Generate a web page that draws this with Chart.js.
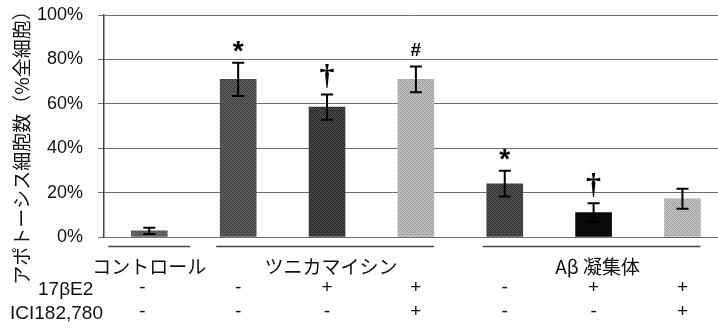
<!DOCTYPE html>
<html>
<head>
<meta charset="utf-8">
<script src="https://cdn.jsdelivr.net/npm/chart.js@4/dist/chart.umd.min.js"></script>
<style>
  html, body { margin: 0; padding: 0; background: #fff; overflow: hidden; }
  #wrap { width: 718px; height: 329px; position: relative; }
</style>
</head>
<body>
<div id="wrap"><canvas id="c" width="718" height="329"></canvas></div>
<script>
// Apoptotic cells as a percentage of all cells, per treatment
const treatments = ['コントロール', 'ツニカマイシン', 'ツニカマイシン', 'ツニカマイシン', 'Aβ 凝集体', 'Aβ 凝集体', 'Aβ 凝集体'];
const apoptosisPct = [2.8, 71, 58.5, 71, 24, 11, 17.2];
const errorPct = [1.4, 7.5, 5.7, 5.8, 5.8, 4.2, 4.5];
const significance = ['', '*', '†', '#', '*', '†', ''];
const e2Row = ['-', '-', '+', '+', '-', '+', '+'];
const iciRow = ['-', '-', '-', '+', '-', '-', '+'];
const groups = [
  { label: 'コントロール', from: 0, to: 0 },
  { label: 'ツニカマイシン', from: 1, to: 3 },
  { label: 'Aβ 凝集体', from: 4, to: 6 }
];
const rowTitles = ['17βE2', 'ICI182,780'];
const yTicks = [0, 20, 40, 60, 80, 100];
const barColors = ['#5e5e5e', '#505050', '#3a3a3a', '#b2b2b2', '#434343', '#0a0a0a', '#b4b4b4'];

const LATIN = '"Liberation Sans", Arial, sans-serif';
const CJK = '"Noto Sans CJK JP", "Liberation Sans", sans-serif';

// Printed halftone look: a small dithered tile around each base grey
function halftone(hex) {
  const base = parseInt(hex.slice(1, 3), 16);
  if (base < 20) return hex;
  const tile = document.createElement('canvas');
  tile.width = 4; tile.height = 4;
  const t = tile.getContext('2d');
  const offs = [[-22, 14, -8, 20], [12, -16, 22, -10], [-6, 20, -20, 10], [18, -12, 8, -18]];
  for (let r = 0; r < 4; r++) {
    for (let c = 0; c < 4; c++) {
      const g = Math.max(0, Math.min(255, base + offs[r][c]));
      t.fillStyle = `rgb(${g},${g},${g})`;
      t.fillRect(c, r, 1, 1);
    }
  }
  return t.createPattern(tile, 'repeat');
}

// Error bars, significance marks, group rules and the treatment table under the axis
const annotations = {
  id: 'annotations',
  afterDatasetsDraw(chart) {
    const ctx = chart.ctx;
    const xs = chart.scales.x, ys = chart.scales.y;
    ctx.save();
    ctx.strokeStyle = '#000';
    ctx.lineWidth = 2;
    apoptosisPct.forEach((v, i) => {
      const x = xs.getPixelForValue(i);
      const yt = ys.getPixelForValue(v + errorPct[i]);
      const yb = ys.getPixelForValue(Math.max(0, v - errorPct[i]));
      ctx.beginPath();
      ctx.moveTo(x, yt); ctx.lineTo(x, yb);
      ctx.moveTo(x - 6, yt); ctx.lineTo(x + 6, yt);
      ctx.moveTo(x - 6, yb); ctx.lineTo(x + 6, yb);
      ctx.stroke();
      const mark = significance[i];
      if (mark) {
        ctx.fillStyle = '#000';
        ctx.textAlign = 'center';
        ctx.textBaseline = 'alphabetic';
        if (mark === '†') ctx.font = 'bold 30px "Liberation Serif", serif';
        else if (mark === '#') ctx.font = 'bold 19px ' + LATIN;
        else ctx.font = 'bold 28px ' + LATIN;
        const m = ctx.measureText(mark);
        const gap = mark === '†' ? 6 : 11;
        ctx.fillText(mark, x, yt - gap - m.actualBoundingBoxDescent);
      }
    });
    ctx.restore();
  },
  afterDraw(chart) {
    const ctx = chart.ctx;
    const xs = chart.scales.x;
    ctx.save();
    // group rules just below the zero line
    ctx.strokeStyle = '#444';
    ctx.lineWidth = 1.5;
    groups.forEach(g => {
      const single = g.from === g.to;
      const x0 = xs.getPixelForValue(g.from) - (single ? 41 : 22);
      const x1 = xs.getPixelForValue(g.to) + (single ? 41 : 18);
      ctx.beginPath();
      ctx.moveTo(x0, 246.5); ctx.lineTo(x1, 246.5);
      ctx.stroke();
      ctx.fillStyle = '#111';
      ctx.font = '19px ' + CJK;
      ctx.textAlign = 'center';
      ctx.textBaseline = 'middle';
      const mid = (g.from + g.to) / 2;
      ctx.fillText(g.label, xs.getPixelForValue(mid) + (single ? 0 : 4), 267);
    });
    // treatment table rows
    ctx.font = '19px ' + LATIN;
    ctx.textBaseline = 'middle';
    ctx.textAlign = 'left';
    ctx.fillText(rowTitles[0], 38, 290);
    ctx.fillText(rowTitles[1], 10, 314);
    ctx.textAlign = 'center';
    [e2Row, iciRow].forEach((row, r) => {
      row.forEach((s, i) => {
        const x = xs.getPixelForValue(i) - (i === 0 ? 7 : 0);
        ctx.fillText(s, x, (r === 0 ? 288 : 312));
      });
    });
    // vertical axis title
    ctx.translate(22, 143);
    ctx.rotate(-Math.PI / 2);
    ctx.font = '19px ' + CJK;
    ctx.textAlign = 'center';
    ctx.textBaseline = 'middle';
    ctx.fillText('アポトーシス細胞数（%全細胞）', 0, 0);
    ctx.restore();
  }
};

new Chart(document.getElementById('c'), {
  type: 'bar',
  data: {
    datasets: [{
      label: treatments[0],
      data: apoptosisPct.map((v, i) => ({ x: i, y: v })),
      backgroundColor: barColors.map(halftone),
      borderWidth: 0,
      barThickness: 36
    }]
  },
  options: {
    responsive: false,
    animation: false,
    events: [],
    layout: { padding: { left: 0, right: 0, top: 15, bottom: 92 } },
    plugins: { legend: { display: false }, tooltip: { enabled: false } },
    scales: {
      x: {
        type: 'linear',
        display: false,
        offset: false,
        grid: { offset: false },
        min: -0.51,
        max: 6.40
      },
      y: {
        min: 0,
        max: 100,
        afterFit(scale) {
          scale.width = 104;
          scale.paddingTop = 0;
          scale.paddingBottom = 0;
        },
        afterBuildTicks(scale) { scale.ticks = yTicks.map(v => ({ value: v })); },
        ticks: {
          callback: v => v + '%',
          font: { family: LATIN, size: 18 },
          color: '#111',
          padding: 15
        },
        grid: { color: '#6e6e6e', lineWidth: 1, tickLength: 6, drawTicks: true },
        border: { display: true, color: '#444', width: 1.5 }
      }
    }
  },
  plugins: [annotations]
});
</script>
</body>
</html>
